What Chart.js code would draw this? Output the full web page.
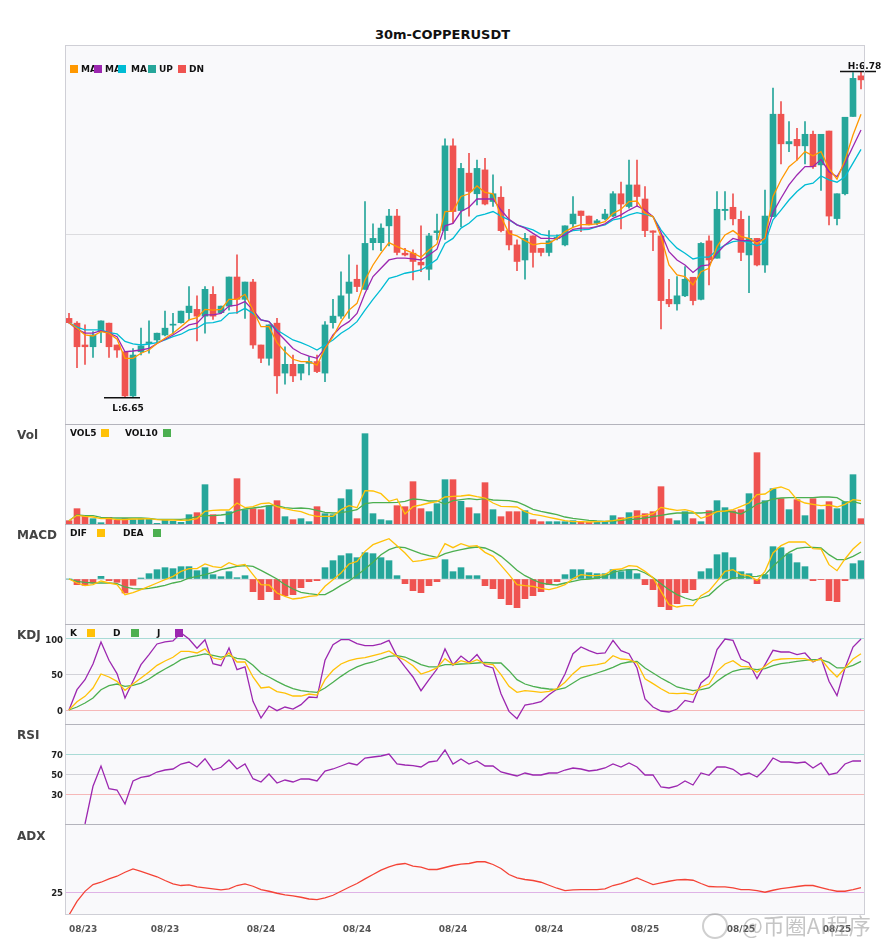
<!DOCTYPE html>
<html>
<head>
<meta charset="utf-8">
<title>30m-COPPERUSDT</title>
<script src="https://cdn.jsdelivr.net/npm/chart.js@4.4.1/dist/chart.umd.min.js"></script>
<style>
html,body{margin:0;padding:0;background:#fff;}
#wrap{position:relative;width:885px;height:950px;overflow:hidden;font-family:"DejaVu Sans",Verdana,sans-serif;}
canvas{position:absolute;left:0;}
.t{position:absolute;font-weight:bold;white-space:nowrap;line-height:1;}
.title{left:0;width:885px;text-align:center;top:28px;font-size:13px;color:#111;}
.pt{left:17px;font-size:12px;color:#444;}
.lg{font-size:9px;color:#111;}
.sq{position:absolute;width:8px;height:8px;}
.wm{position:absolute;left:742px;top:911px;font-family:"Noto Sans CJK SC",sans-serif;font-size:22px;color:rgba(150,150,150,0.55);white-space:nowrap;line-height:1.2;}
.logo{position:absolute;left:702px;top:913px;width:22px;height:22px;border:2px solid rgba(160,160,160,0.5);border-radius:50%;}
</style>
</head>
<body>
<div id="wrap">
<div class="t title">30m-COPPERUSDT</div>
<canvas id="cMain" width="885" height="379" style="top:45px"></canvas>
<canvas id="cVol" width="885" height="100" style="top:424px"></canvas>
<canvas id="cMacd" width="885" height="100" style="top:524px"></canvas>
<canvas id="cKdj" width="885" height="100" style="top:624px"></canvas>
<canvas id="cRsi" width="885" height="100" style="top:724px"></canvas>
<canvas id="cAdx" width="885" height="126" style="top:824px"></canvas>

<div class="t lg" style="left:81px;top:64.6px">MA</div>
<div class="t lg" style="left:105px;top:64.6px">MA</div>
<div class="t lg" style="left:131px;top:64.6px">MA</div>
<div class="t lg" style="left:159px;top:64.6px">UP</div>
<div class="t lg" style="left:189px;top:64.6px">DN</div>
<div class="sq" style="left:70px;top:65px;background:#ff9800"></div>
<div class="sq" style="left:94px;top:65px;background:#9c27b0"></div>
<div class="sq" style="left:118px;top:65px;background:#00bcd4"></div>
<div class="sq" style="left:148px;top:65px;background:#26a69a"></div>
<div class="sq" style="left:178px;top:65px;background:#ef5350"></div>

<div class="t pt" style="top:428.6px">Vol</div>
<div class="t lg" style="left:70px;top:429.2px">VOL5</div>
<div class="sq" style="left:101px;top:429px;background:#ffc107"></div>
<div class="t lg" style="left:125px;top:429.2px">VOL10</div>
<div class="sq" style="left:163px;top:429px;background:#4caf50"></div>

<div class="t pt" style="top:528.6px">MACD</div>
<div class="t lg" style="left:70px;top:529.2px">DIF</div>
<div class="sq" style="left:97px;top:529px;background:#ffc107"></div>
<div class="t lg" style="left:123px;top:529.2px">DEA</div>
<div class="sq" style="left:153px;top:529px;background:#4caf50"></div>

<div class="t pt" style="top:628.6px">KDJ</div>
<div class="t lg" style="left:70px;top:629.2px">K</div>
<div class="sq" style="left:87px;top:629px;background:#ffc107"></div>
<div class="t lg" style="left:113px;top:629.2px">D</div>
<div class="sq" style="left:131px;top:629px;background:#4caf50"></div>
<div class="t lg" style="left:157px;top:629.2px">J</div>
<div class="sq" style="left:175px;top:629px;background:#9c27b0"></div>

<div class="t pt" style="top:728.6px">RSI</div>
<div class="t pt" style="top:829.6px">ADX</div>

<div class="logo"></div>
<div class="wm">@币圈AI程序</div>
</div>

<script>
// ---------------- DATA ----------------
const tickLabels = ['08/23','08/23','08/24','08/24','08/24','08/24','08/25','08/25','08/25'];
const tickStep = 12;

const opens = [6.6816,6.6797,6.6710,6.6703,6.6763,6.6797,6.6710,6.6683,6.6507,6.6683,
6.6716,6.6730,6.6750,6.6789,6.6799,6.6839,6.6852,6.6825,6.6912,6.6839,
6.6865,6.6981,6.6892,6.6961,6.6710,6.6657,6.6797,6.6598,6.6633,6.6598,
6.6637,6.6644,6.6598,6.6799,6.6825,6.6916,6.6972,6.6932,6.7118,6.7118,
6.7185,6.7224,6.7076,6.7076,6.7040,6.7012,6.7158,6.7166,6.7504,6.7246,
6.7395,6.7313,6.7408,6.7282,6.7299,6.7166,6.7109,6.7049,6.7145,6.7095,
6.7079,6.7135,6.7109,6.7193,6.7244,6.7224,6.7195,6.7213,6.7224,6.7313,
6.7262,6.7348,6.7292,6.7165,6.7145,6.6892,6.6874,6.6906,6.6980,6.6892,
6.7125,6.7056,6.7246,6.7259,6.7211,6.7069,6.7135,6.7029,6.7222,6.7630,
6.7512,6.7530,6.7504,6.7550,6.7428,6.7563,6.7214,6.7313,6.7621,6.7783];

const highs = [6.6836,6.6803,6.6790,6.6763,6.6806,6.6797,6.6710,6.6683,6.6696,6.6777,
6.6806,6.6757,6.6845,6.6836,6.6845,6.6943,6.6906,6.6943,6.6943,6.6865,
6.6981,6.7069,6.6961,6.6972,6.6710,6.6790,6.6816,6.6703,6.6670,6.6633,
6.6664,6.6670,6.6803,6.6892,6.7002,6.7069,6.7029,6.7282,6.7193,6.7193,
6.7251,6.7251,6.7095,6.7089,6.7185,6.7155,6.7232,6.7532,6.7532,6.7434,
6.7474,6.7447,6.7454,6.7388,6.7342,6.7251,6.7129,6.7155,6.7145,6.7095,
6.7166,6.7149,6.7185,6.7302,6.7244,6.7224,6.7211,6.7251,6.7322,6.7359,
6.7447,6.7447,6.7342,6.7165,6.7155,6.6972,6.6983,6.7023,6.6980,6.7118,
6.7145,6.7322,6.7322,6.7313,6.7244,6.7224,6.7135,6.7328,6.7734,6.7680,
6.7601,6.7574,6.7601,6.7563,6.7550,6.7563,6.7313,6.7618,6.7796,6.7800];

const lows = [6.6797,6.6620,6.6633,6.6660,6.6719,6.6660,6.6660,6.6500,6.6500,6.6670,
6.6677,6.6719,6.6746,6.6753,6.6797,6.6810,6.6726,6.6757,6.6812,6.6836,
6.6849,6.6836,6.6816,6.6696,6.6640,6.6630,6.6517,6.6554,6.6564,6.6571,
6.6591,6.6600,6.6564,6.6777,6.6816,6.6816,6.6923,6.6932,6.7089,6.7086,
6.7105,6.7069,6.7065,6.6969,6.7002,6.6969,6.7129,6.7131,6.7196,6.7182,
6.7224,6.7268,6.7268,6.7262,6.7161,6.7089,6.7006,6.6972,6.7020,6.7065,
6.7065,6.7129,6.7105,6.7182,6.7162,6.7189,6.7189,6.7209,6.7222,6.7173,
6.7255,6.7262,6.7142,6.7086,6.6774,6.6863,6.6849,6.6903,6.6870,6.6890,
6.6949,6.7056,6.7209,6.7189,6.7046,6.6919,6.7025,6.6999,6.7222,6.7432,
6.7481,6.7447,6.7432,6.7414,6.7326,6.7189,6.7189,6.7308,6.7621,6.7731];

const closes = [6.6799,6.6703,6.6703,6.6750,6.6806,6.6703,6.6690,6.6507,6.6670,6.6706,
6.6722,6.6757,6.6777,6.6791,6.6845,6.6865,6.6825,6.6932,6.6825,6.6865,
6.6981,6.6892,6.6961,6.6710,6.6657,6.6790,6.6587,6.6633,6.6587,6.6633,
6.6644,6.6604,6.6790,6.6825,6.6906,6.6961,6.6943,6.7115,6.7135,6.7176,
6.7224,6.7079,6.7069,6.7043,6.7029,6.7145,6.7165,6.7504,6.7242,6.7414,
6.7322,6.7414,6.7272,6.7313,6.7166,6.7109,6.7043,6.7135,6.7079,6.7079,
6.7125,6.7139,6.7185,6.7232,6.7226,6.7189,6.7205,6.7232,6.7313,6.7272,
6.7348,6.7302,6.7166,6.7159,6.6887,6.6874,6.6906,6.6972,6.6887,6.7115,
6.7049,6.7251,6.7251,6.7213,6.7079,6.7135,6.7029,6.7224,6.7630,6.7512,
6.7521,6.7504,6.7550,6.7421,6.7550,6.7224,6.7313,6.7618,6.7773,6.7767];

const ma5 = [6.6799,6.6777,6.6750,6.6746,6.6763,6.6757,6.6733,6.6657,6.6657,6.6677,
6.6690,6.6716,6.6737,6.6757,6.6783,6.6810,6.6819,6.6852,6.6849,6.6852,
6.6892,6.6892,6.6912,6.6849,6.6783,6.6783,6.6719,6.6683,6.6653,6.6644,
6.6644,6.6630,6.6696,6.6743,6.6803,6.6849,6.6876,6.6969,6.7029,6.7076,
6.7118,6.7102,6.7089,6.7076,6.7060,6.7089,6.7113,6.7242,6.7244,6.7302,
6.7313,6.7344,6.7318,6.7313,6.7222,6.7155,6.7145,6.7126,6.7109,6.7115,
6.7115,6.7135,6.7162,6.7179,6.7190,6.7190,6.7193,6.7202,6.7235,6.7251,
6.7282,6.7284,6.7235,6.7222,6.7142,6.7029,6.6989,6.6983,6.6949,6.7002,
6.7016,6.7102,6.7149,6.7166,6.7142,6.7135,6.7115,6.7135,6.7302,6.7368,
6.7421,6.7447,6.7481,6.7464,6.7481,6.7414,6.7371,6.7447,6.7547,6.7630];

const ma10 = [6.6799,6.6773,6.6757,6.6757,6.6767,6.6757,6.6743,6.6683,6.6686,6.6690,
6.6696,6.6716,6.6733,6.6750,6.6770,6.6790,6.6797,6.6830,6.6830,6.6836,
6.6865,6.6869,6.6883,6.6849,6.6810,6.6803,6.6763,6.6730,6.6696,6.6677,
6.6666,6.6657,6.6696,6.6750,6.6783,6.6803,6.6836,6.6916,6.6983,6.7016,
6.7049,6.7056,6.7056,6.7053,6.7049,6.7069,6.7092,6.7185,6.7195,6.7242,
6.7259,6.7292,6.7292,6.7292,6.7248,6.7211,6.7189,6.7176,6.7155,6.7135,
6.7135,6.7133,6.7149,6.7171,6.7176,6.7176,6.7182,6.7193,6.7215,6.7229,
6.7248,6.7264,6.7248,6.7222,6.7158,6.7082,6.7049,6.7029,6.6999,6.7025,
6.7029,6.7076,6.7109,6.7135,6.7126,6.7126,6.7122,6.7135,6.7238,6.7295,
6.7348,6.7388,6.7421,6.7421,6.7450,6.7401,6.7381,6.7435,6.7501,6.7567];

const ma20 = [6.6799,6.6781,6.6770,6.6770,6.6770,6.6759,6.6754,6.6724,6.6714,6.6710,
6.6714,6.6719,6.6730,6.6743,6.6753,6.6770,6.6777,6.6797,6.6799,6.6807,
6.6836,6.6839,6.6856,6.6836,6.6810,6.6803,6.6770,6.6750,6.6730,6.6719,
6.6706,6.6690,6.6710,6.6730,6.6757,6.6777,6.6803,6.6849,6.6892,6.6932,
6.6976,6.6985,6.6996,6.7002,6.7009,6.7029,6.7052,6.7115,6.7135,6.7176,
6.7195,6.7224,6.7232,6.7242,6.7224,6.7209,6.7189,6.7179,6.7169,6.7151,
6.7145,6.7145,6.7155,6.7166,6.7169,6.7171,6.7182,6.7189,6.7209,6.7215,
6.7229,6.7238,6.7231,6.7222,6.7169,6.7129,6.7096,6.7076,6.7053,6.7060,
6.7060,6.7089,6.7108,6.7122,6.7126,6.7118,6.7105,6.7118,6.7209,6.7248,
6.7288,6.7322,6.7348,6.7355,6.7384,6.7368,6.7359,6.7381,6.7435,6.7490];

const volume = [10,46,23,16,4,20,11,16,13,16, 16,2,13,8,5,28,34,118,28,5,
37,136,43,46,43,55,70,22,13,16, 7,52,31,28,76,103,16,271,31,13,
10,55,52,127,46,37,61,133,133,68, 49,31,124,43,22,37,37,40,13,7,
7,7,7,10,7,5,5,7,25,19, 34,40,31,37,112,16,10,37,16,7,
40,70,49,40,43,91,214,70,106,76, 43,73,25,76,43,67,46,67,148,16];

const vol5 = [10,26,23,21,16,17,13,13,15,15, 16,13,12,12,11,12,16,38,41,42,
42,63,49,52,61,63,52,46,41,37, 28,23,23,23,43,55,49,100,99,91,
68,75,30,52,57,63,67,81,83,84, 87,82,78,63,53,52,51,37,29,25,
20,15,10,7,7,6,7,8,10,14, 19,23,26,31,50,45,41,43,37,17,
25,37,39,43,53,63,88,90,106,111, 102,73,63,59,55,57,51,59,73,70];

const vol10 = [10,27,25,25,20,18,18,18,18,18, 17,14,14,14,14,16,22,25,25,27,
30,40,45,48,51,55,55,49,47,48, 46,41,35,33,34,38,43,61,64,64,
64,65,68,75,73,69,69,60,70,73, 76,73,76,72,71,70,66,56,44,38,
33,28,21,17,14,11,9,8,9,11, 13,15,18,22,26,30,33,33,33,33,
35,38,38,36,30,43,60,66,75,78, 79,79,79,79,81,81,79,65,67,61];

const macdHist = [0,-17,-19,-12,8,-5,-10,-42,-19,3, 16,28,34,31,37,37,25,34,13,7,
22,4,10,-38,-62,-38,-62,-50,-47,-26, -8,-5,34,55,70,76,64,79,76,64,
55,10,-14,-35,-41,-20,-8,58,22,34, 10,10,-20,-29,-59,-77,-86,-59,-50,-38,
-17,-8,13,28,28,19,16,16,28,22, 28,16,-17,-32,-83,-92,-74,-41,-32,22,
31,73,79,64,22,16,-14,13,97,94, 76,49,37,-5,-2,-65,-68,-5,46,55];

const dif = [0,-12,-20,-17,-6,-12,-17,-47,-41,-32, -22,-12,-2,8,23,31,31,45,37,34,
49,40,44,13,-17,-18,-42,-52,-60,-57, -52,-50,-22,-2,18,45,53,83,103,112,
121,100,78,52,55,60,63,106,94,106, 98,100,80,68,41,13,-17,-20,-22,-28,
-32,-26,-17,1,13,10,10,13,28,30, 40,38,23,4,-37,-77,-84,-80,-80,-50,
-36,-7,23,28,13,10,-4,23,78,100, 111,111,111,91,90,43,25,60,90,111];

const dea = [0,-7,-10,-12,-12,-12,-14,-24,-29,-30, -28,-24,-19,-12,-7,3,8,13,20,28,
33,38,40,38,26,13,0,-17,-30,-40, -44,-47,-47,-34,-19,-6,11,30,50,73,
88,96,94,85,76,70,65,76,83,88, 93,96,93,83,68,48,26,10,-2,-12,
-16,-18,-12,-7,-2,0,3,8,20,26, 28,28,18,4,-14,-32,-47,-57,-64,-57,
-49,-27,-7,3,4,7,8,13,38,60, 80,92,95,95,93,73,58,58,68,81];

const kLine = [0,11.7,19.2,31,50.7,46.5,40.4,27.7,36.6,45, 53.5,62.9,69,74.2,82.6,82.6,80.3,86,73.2,70.9,
80.3,67.6,67.6,46.5,31,32.4,25.8,23.9,19.7,19.7, 22.5,21.1,42.7,55.9,64.8,69.5,72.3,73.7,76.5,79.3,
83.1,75.6,70,62.4,50.7,54.5,59.2,72.3,63.8,69.5, 66.2,70.9,64.8,63.8,49.8,33.3,24.9,27.2,26.3,24.9,
26.3,30,39,51.2,60.6,62.4,63.8,66.2,76.5,71.8, 70.9,66.2,44.1,37.1,30,23.9,23,23.9,21.6,32.4,
36.6,54.5,64.8,69.5,61.5,60.6,53.1,61.5,70,71.8, 72.3,72.3,72.3,68.5,71.8,57.7,46.5,59.2,71.8,79.3];

const dLine = [0,4.2,9.9,16.9,28.6,34.3,36.6,33.3,34.7,38, 43.7,51.2,57.7,63.8,70.9,74.6,76.5,78.9,77,74.6,
76.5,72.8,71.4,62.9,52.1,46.5,40.4,34.7,30,27.2, 25.8,24.9,31,39,47.4,54.9,60.6,64.8,67.6,71.8,
75.6,76.5,74.6,69.5,63.8,60.6,60.6,63.8,63.8,64.8, 65.3,66.2,67.1,66.2,66.2,55.4,42.7,36.6,33.3,31,
29.6,28.6,31,38,45,48.4,52.1,55.9,60.1,65.3, 67.6,68.5,59.2,52.1,45,39,32.4,29.6,27.2,28.6,
31,40.4,48.4,54.5,57.3,58.2,56.8,58.2,62.4,65.3, 66.7,68.5,70,70.9,70.9,67.1,59.2,59.2,62.9,68.5];

const jLine = [0,28.6,42.7,64.8,95.8,70,51.2,16.9,40.4,63.8, 78,93,95.8,97.2,108.5,100,86.9,99,65.3,62.4,
87.3,56.8,60.6,12.2,-11.3,5.6,-0.9,4.2,1.4,7.5, 18.3,17.4,70,92,99,99,93.4,90.6,90.6,93,
98,75.6,60.6,46.5,27.2,42.7,57.7,86,63.4,76, 67.1,78,62.4,59.2,23,-1.9,-12.2,7,8.9,11.7,
21.6,29.6,50.7,79.3,88.7,83.6,79.3,80.3,98,83.6, 79.3,59.2,15.5,4.2,-1.4,-2.8,1.4,13.6,10.8,38,
47.4,85,100,98,71.8,66.2,44.1,63.8,84,81.7, 81.7,78,80.3,67.6,73.2,40.4,20.2,59.2,88.7,100];

const rsi = [null,null,0,37.7,58,35.3,34,20,43,46.7, 48,52,54,55,60,62,57,65.3,54,56.7,
64,55,60,45.3,42,50,41,44,42,45, 45,43,53,55,58,61,59,66,67,68,
70,60,59,58.3,57,62,63,74,60,65, 60,63,58,58,52,50,48,51,49,49,
51,51,54,56,55,53,54,56,60,57, 61,57,49,49,37,36,38,43,39,51,
48.7,57,57,54.7,49,51,47,54.7,66,62, 62,61,62,56,61,49.3,51,60,63,63];

const adx = [0,15,26,33.5,36,39.7,42.6,47,50.7,48, 45,42,37.9,34.2,32.4,33,30.9,29.8,28.7,27.6,
28.7,32.4,34.2,31.6,27.9,26.1,23.9,22.1,21,19.5, 17.6,16.9,18.8,21.7,26.1,30.5,34.6,39.7,44.5,49.3,
52.9,55.5,56.6,53.7,52.6,50,50,52.2,54.4,55.9, 56.6,58.5,58.5,55.5,51.1,44.5,40.8,39,37.9,36,
32.7,29.4,26.8,27.6,27.9,27.9,27.9,28.7,32.4,34.6, 37.5,40.8,37.1,33.5,35.3,37.1,38.6,39,38.2,34.6,
31.3,30.9,30.9,29.8,27.9,27.9,26.8,25,27.2,29, 30.1,31.3,32.4,32.4,30.1,27.9,26.1,26.1,27.9,30.1];

// categories: 30-minute bars starting 08/23 12:00
const categories = opens.map((_, i) => {
  const mins = 12 * 60 + i * 30;
  const hh = String(Math.floor(mins / 60) % 24).padStart(2, '0');
  const mm = String(mins % 60).padStart(2, '0');
  return tickLabels[Math.floor(i / tickStep)] + ' ' + hh + ':' + mm;
});

// ---------------- STYLE ----------------
const UP = '#26a69a', DN = '#ef5350';
const FONT = '"DejaVu Sans", Verdana, sans-serif';
const dirColors = opens.map((o, i) => closes[i] >= o ? UP : DN);

const panelPlugin = {
  id: 'panel',
  beforeDraw(chart) {
    const {ctx, chartArea: a} = chart;
    ctx.save();
    ctx.fillStyle = '#f9f9fb';
    ctx.fillRect(a.left, a.top, a.right - a.left, a.bottom - a.top);
    ctx.restore();
  },
  afterDraw(chart, args, opts) {
    const {ctx, chartArea: a} = chart;
    ctx.save();
    ctx.lineWidth = 1;
    ctx.strokeStyle = '#cfcfd6';
    ctx.beginPath();
    ctx.moveTo(a.left + 0.5, a.top); ctx.lineTo(a.left + 0.5, a.bottom);
    ctx.moveTo(a.right - 0.5, a.top); ctx.lineTo(a.right - 0.5, a.bottom);
    if (opts.bottom) { ctx.moveTo(a.left, a.bottom - 0.5); ctx.lineTo(a.right, a.bottom - 0.5); }
    ctx.stroke();
    ctx.strokeStyle = opts.top || '#b4b4bc';
    ctx.beginPath();
    ctx.moveTo(a.left, a.top + 0.5); ctx.lineTo(a.right, a.top + 0.5);
    ctx.stroke();
    ctx.restore();
  }
};

const hlPlugin = {
  id: 'hl',
  afterDatasetsDraw(chart) {
    const {ctx} = chart;
    const xs = chart.scales.x, ys = chart.scales.y;
    const hiVal = Math.max(...highs), loVal = Math.min(...lows);
    const hi = highs.indexOf(hiVal), lo = lows.indexOf(loVal);
    ctx.save();
    ctx.strokeStyle = '#111';
    ctx.lineWidth = 1.5;
    ctx.fillStyle = '#111';
    ctx.font = 'bold 9px ' + FONT;
    ctx.textAlign = 'center';
    ctx.textBaseline = 'alphabetic';
    let x = xs.getPixelForValue(hi), y = ys.getPixelForValue(hiVal);
    ctx.beginPath(); ctx.moveTo(x - 21, y); ctx.lineTo(x + 15, y); ctx.stroke();
    ctx.fillText('H:' + hiVal.toFixed(2), x + 3.5, y - 3);
    x = xs.getPixelForValue(lo); y = ys.getPixelForValue(loVal);
    ctx.beginPath(); ctx.moveTo(x - 21, y); ctx.lineTo(x + 15, y); ctx.stroke();
    ctx.fillText('L:' + loVal.toFixed(2), x + 3, y + 13);
    ctx.restore();
  }
};

function yAxis(min, max, ticksVals, gridColors, showLabels) {
  return {
    position: 'left', min, max,
    afterFit(s) { s.width = 65; s.paddingTop = 0; s.paddingBottom = 0; },
    afterBuildTicks(s) { s.ticks = ticksVals.map(v => ({value: v})); },
    border: {display: false},
    grid: {
      display: ticksVals.length > 0,
      drawTicks: false,
      lineWidth: 1,
      color: ctx => (ctx.tick && gridColors[ctx.tick.value]) || 'rgba(0,0,0,0)'
    },
    ticks: {
      display: !!showLabels, padding: 2, color: '#222', labelOffset: 1.5,
      font: {family: FONT, size: 8.5, weight: 'bold'},
      callback: v => String(v)
    }
  };
}

const hiddenX = {display: false, offset: true, grid: {display: false}};

function baseOptions(y, x, panelOpts) {
  return {
    responsive: false, animation: false, events: [],
    layout: {padding: {left: 0, right: 20, top: 0, bottom: 0}},
    plugins: {legend: {display: false}, tooltip: {enabled: false}, panel: panelOpts || {}},
    scales: {x: x || hiddenX, y}
  };
}

function line(data, color, order) {
  return {type: 'line', data, borderColor: color, borderWidth: 1.3, pointRadius: 0,
          tension: 0, fill: false, order: order || 0};
}

// ---------------- MAIN ----------------
const yMinMain = 6.6395, yMaxMain = 6.7906;
new Chart(document.getElementById('cMain'), {
  type: 'bar',
  data: {
    labels: categories,
    datasets: [
      line(ma5, '#ff9800'),
      line(ma10, '#9c27b0'),
      line(ma20, '#00bcd4'),
      {type: 'bar', data: opens.map((o, i) => [o, closes[i]]), backgroundColor: dirColors,
       barThickness: 6, grouped: false, minBarLength: 1, borderWidth: 0, order: 1},
      {type: 'bar', data: lows.map((l, i) => [l, highs[i]]), backgroundColor: dirColors,
       barThickness: 1, grouped: false, borderWidth: 0, order: 2}
    ]
  },
  options: baseOptions(
    yAxis(yMinMain, yMaxMain, [(yMinMain + yMaxMain) / 2], {[(yMinMain + yMaxMain) / 2]: '#dcdcdf'}, false),
    null, {top: '#cfcfd6'}),
  plugins: [panelPlugin, hlPlugin]
});

// ---------------- VOL ----------------
new Chart(document.getElementById('cVol'), {
  type: 'bar',
  data: {
    labels: categories,
    datasets: [
      line(vol5, '#ffc107'),
      line(vol10, '#4caf50'),
      {type: 'bar', data: volume, backgroundColor: dirColors, barThickness: 6, borderWidth: 0, order: 1}
    ]
  },
  options: baseOptions(yAxis(0, 300, [], {}, false)),
  plugins: [panelPlugin]
});

// ---------------- MACD ----------------
new Chart(document.getElementById('cMacd'), {
  type: 'bar',
  data: {
    labels: categories,
    datasets: [
      line(dif, '#ffc107'),
      line(dea, '#4caf50'),
      {type: 'bar', data: macdHist, backgroundColor: macdHist.map(v => v >= 0 ? UP : DN),
       barThickness: 6, borderWidth: 0, order: 1}
    ]
  },
  options: baseOptions(yAxis(-135, 165, [0], {0: '#dcdce0'}, false)),
  plugins: [panelPlugin]
});

// ---------------- KDJ ----------------
new Chart(document.getElementById('cKdj'), {
  type: 'line',
  data: {
    labels: categories,
    datasets: [line(kLine, '#ffc107'), line(dLine, '#4caf50'), line(jLine, '#9c27b0')]
  },
  options: baseOptions(yAxis(-19.7, 121.1, [0, 50, 100], {0: '#f6b8b8', 50: '#d2d2d8', 100: '#a9dbd6'}, true)),
  plugins: [panelPlugin]
});

// ---------------- RSI ----------------
new Chart(document.getElementById('cRsi'), {
  type: 'line',
  data: {labels: categories, datasets: [line(rsi, '#9c27b0')]},
  options: baseOptions(yAxis(0, 100, [30, 50, 70], {30: '#f6b8b8', 50: '#d2d2d8', 70: '#a9dbd6'}, true)),
  plugins: [panelPlugin]
});

// ---------------- ADX ----------------
new Chart(document.getElementById('cAdx'), {
  type: 'line',
  data: {labels: categories, datasets: [line(adx, '#f44336')]},
  options: baseOptions(
    yAxis(0, 100, [25], {25: '#dfb3e6'}, true),
    {
      display: true, offset: true,
      afterFit(s) { s.height = 35; s.paddingLeft = 0; s.paddingRight = 0; },
      grid: {display: false}, border: {display: false},
      ticks: {
        autoSkip: false, maxRotation: 0, minRotation: 0, align: 'inner', padding: 1,
        color: '#555', font: {family: FONT, size: 9, weight: 'bold'},
        callback: (v, i) => (i % tickStep === 0 ? tickLabels[i / tickStep] : '')
      }
    },
    {bottom: true}),
  plugins: [panelPlugin]
});
</script>
</body>
</html>
